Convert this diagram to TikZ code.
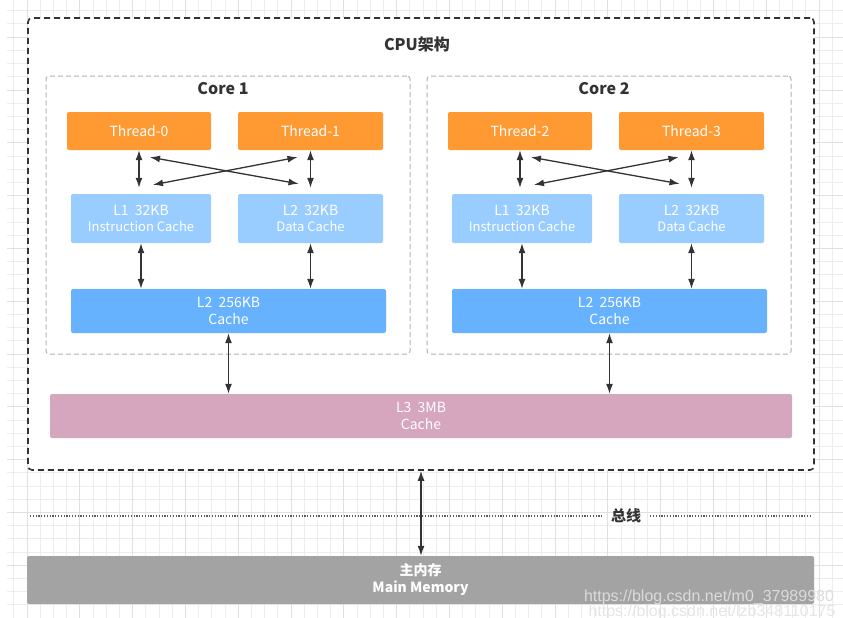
\documentclass[tikz,border=0pt]{standalone}
\usepackage{fontspec}
\setmainfont{Noto Sans CJK SC}
\newfontfamily\wmfont{Liberation Sans}
\usetikzlibrary{%
  calc,%
  arrows.meta,%
  positioning%
}
\definecolor{threadc}{HTML}{FF9A33}
\definecolor{lonec}{HTML}{99CCFF}
\definecolor{ltwoc}{HTML}{66B2FF}
\definecolor{lthreec}{HTML}{D5A6BD}
\definecolor{memc}{HTML}{A3A3A3}
\definecolor{inkc}{HTML}{333333}
\definecolor{gridc}{HTML}{EDEDED}
\definecolor{gridmaj}{HTML}{E0E0E0}
\tikzset{
  cachebox/.style={rounded corners=2pt, text=white, align=center, inner sep=0pt,
    font=\fontsize{14}{17}\selectfont},
  threadbox/.style={cachebox, fill=threadc, minimum height=38},
  lonebox/.style={cachebox, fill=lonec, minimum height=49},
  ltwobox/.style={cachebox, fill=ltwoc, minimum width=315, minimum height=44},
  corebox/.style={draw=gray!60, dash pattern=on 5pt off 3pt, line width=1pt,
    rounded corners=3pt, minimum width=364, minimum height=278},
  link/.style={{Latex[length=10pt,width=7pt]}-{Latex[length=10pt,width=7pt]}, inkc, line width=1.3pt},
}

\begin{document}
\begin{tikzpicture}[x=1pt,y=-1pt]
  \useasboundingbox (0,0) rectangle (843,618);

  %% background grid
  \foreach \i in {1,...,63}
    \draw[gridc, line width=0.8pt] ({0.5+13.2*\i},0) -- ++(0,618);
  \foreach \j in {0,...,46}
    \draw[gridc, line width=0.8pt] (7,{10.7+13.2*\j}) -- ++(836,0);
  \foreach \i in {2,6,...,62}
    \draw[gridmaj, line width=0.8pt] ({0.5+13.2*\i},0) -- ++(0,618);
  \foreach \j in {2,6,...,46}
    \draw[gridmaj, line width=0.8pt] (7,{10.7+13.2*\j}) -- ++(836,0);

  %% cpu frame
  \node[draw=inkc, fill=white, dash pattern=on 6pt off 4pt, line width=1.6pt,
    rounded corners=4pt, minimum width=786, minimum height=452] (cpu) at (421,244) {};
  \node[font=\bfseries\fontsize{16}{18}\selectfont, text=inkc] (cputitle) at (417,44) {CPU架构};

  %%%%%%%%%%%%%%%%
  % the two cores
  \foreach \c/\dx/\ta/\tb in {1/0/0/1, 2/381/2/3} {
    \node[corebox] (core\c) at ({228+\dx},215) {};
    \node[font=\bfseries\fontsize{16}{18}\selectfont, text=inkc] (coretitle\c) at ({223+\dx},89) {Core \c};

    %% threads
    \node[threadbox, minimum width=144] (t\ta) at ({139+\dx},131) {Thread-\ta};
    \node[threadbox, minimum width=145] (t\tb) at ({310.5+\dx},131) {Thread-\tb};

    %% L1 caches
    \node[lonebox, minimum width=140] (l1i\c) at ({141+\dx},218.5)
      {L1\ \ 32KB\\[-1pt]{\fontsize{13}{15}\selectfont Instruction Cache}};
    \node[lonebox, minimum width=145] (l1d\c) at ({310.5+\dx},218.5)
      {L2\ \ 32KB\\[-1pt]{\fontsize{13}{15}\selectfont Data Cache}};

    %% L2 cache
    \node[ltwobox] (l2\c) at ({228.5+\dx},311) {L2\ \ 256KB\\Cache};

    %% thread <-> L1
    \draw[link] (t\ta.south) -- ([yshift=6pt]t\ta.south |- l1i\c.north);
    \draw[link] (t\tb.south) -- ([yshift=6pt]t\tb.south |- l1d\c.north);
    \draw[link] ([xshift=11pt,yshift=-7pt]t\ta.south) -- ([xshift=-12pt,yshift=10pt]l1d\c.north);
    \draw[link] ([xshift=12pt,yshift=9pt]l1i\c.north) -- ([xshift=-13pt,yshift=-7pt]t\tb.south);

    %% L1 <-> L2
    \draw[link] (l1i\c.south) -- (l1i\c.south |- l2\c.north);
    \draw[link] (l1d\c.south) -- (l1d\c.south |- l2\c.north);
  }

  %% L3 cache
  \node[cachebox, fill=lthreec, minimum width=742, minimum height=44] (l3) at (421,416)
    {L3\ \ 3MB\\Cache};
  \draw[link] (l21.south) -- (l21.south |- l3.north);
  \draw[link] (l22.south) -- (l22.south |- l3.north);

  %% bus
  \node[font=\bfseries\fontsize{15}{17}\selectfont, text=inkc, inner sep=9pt] (bus) at (626,516) {总线};
  \coordinate (busL) at (30,516);
  \coordinate (busR) at (812,516);
  \draw[inkc!80, line width=1.2pt, dash pattern=on 1.2pt off 1.6pt] (busL) -- (bus.west);
  \draw[inkc!80, line width=1.2pt, dash pattern=on 1.2pt off 1.6pt] (bus.east) -- (busR);

  %% main memory
  \node[cachebox, fill=memc, minimum width=787, minimum height=48,
    font=\bfseries\fontsize{14}{17}\selectfont] (mem) at (420.5,580) {主内存\\Main Memory};
  \draw[link] (cpu.south) -- (cpu.south |- mem.north);

  %% watermarks
  \node[font=\wmfont\fontsize{16}{18}\selectfont, text=white!86!black, inner sep=0pt] (wm1)
    at (709,597) {https://blog.csdn.net/m0\_37989980};
  \node[font=\wmfont\fontsize{16}{18}\selectfont, text=white!90!black, inner sep=0pt] (wm2)
    at (712,612) {https://blog.csdn.net/lzb348110175};
\end{tikzpicture}
\end{document}
